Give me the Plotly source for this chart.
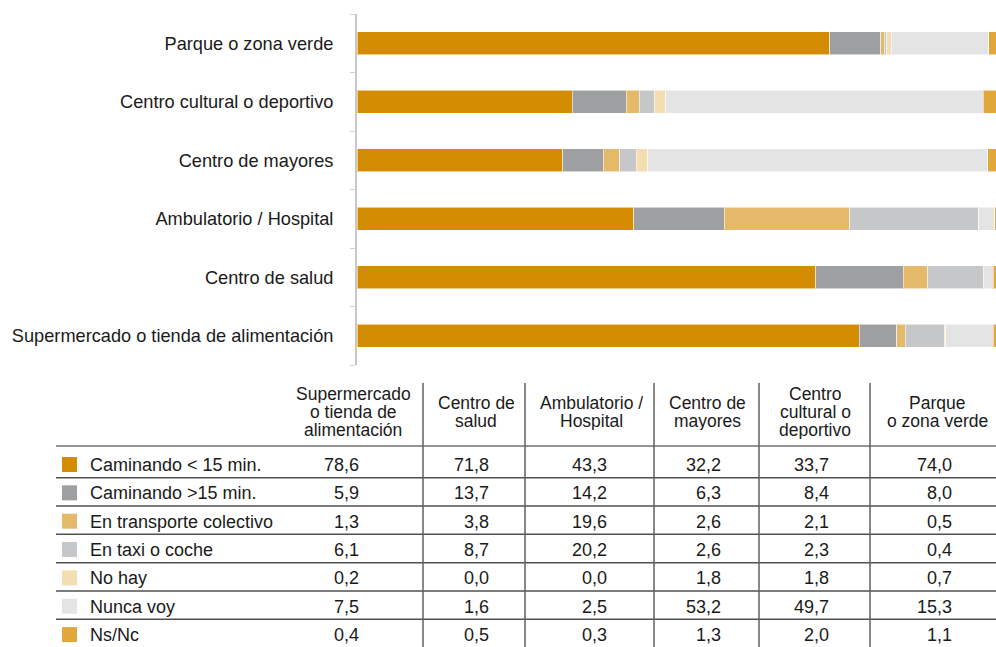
import html
import plotly.graph_objects as go

# ---------------- data ----------------
categories = [
    "Supermercado o tienda de alimentación",
    "Centro de salud",
    "Ambulatorio / Hospital",
    "Centro de mayores",
    "Centro cultural o deportivo",
    "Parque o zona verde",
]
header_labels = [
    ["Supermercado", "o tienda de", "alimentación"],
    ["Centro de", "salud"],
    ["Ambulatorio /", "Hospital"],
    ["Centro de", "mayores"],
    ["Centro", "cultural o", "deportivo"],
    ["Parque", "o zona verde"],
]
series_names = [
    "Caminando < 15 min.",
    "Caminando >15 min.",
    "En transporte colectivo",
    "En taxi o coche",
    "No hay",
    "Nunca voy",
    "Ns/Nc",
]
caminando_menos15 = [78.6, 71.8, 43.3, 32.2, 33.7, 74.0]
caminando_mas15 = [5.9, 13.7, 14.2, 6.3, 8.4, 8.0]
transporte_colectivo = [1.3, 3.8, 19.6, 2.6, 2.1, 0.5]
taxi_coche = [6.1, 8.7, 20.2, 2.6, 2.3, 0.4]
no_hay = [0.2, 0.0, 0.0, 1.8, 1.8, 0.7]
nunca_voy = [7.5, 1.6, 2.5, 53.2, 49.7, 15.3]
ns_nc = [0.4, 0.5, 0.3, 1.3, 2.0, 1.1]

series_values = [caminando_menos15, caminando_mas15, transporte_colectivo,
                 taxi_coche, no_hay, nunca_voy, ns_nc]
colors = ["#D48D02", "#9E9FA1", "#E5B96A", "#C6C7C8", "#F3DDB2", "#E3E4E3", "#E0A73A"]

# ---------------- layout helpers ----------------
W, H = 996, 647
FONT = "Liberation Sans, Arial, Helvetica, sans-serif"
TXT = "#1a1a1a"


def px(x):
    return x / W


def py(y):
    return 1 - y / H


fig = go.Figure()
for name, vals, col in zip(series_names, series_values, colors):
    fig.add_trace(go.Bar(
        y=categories, x=vals, orientation="h", name=name,
        marker=dict(color=col, line=dict(color="rgba(255,255,255,0.55)", width=1)),
        showlegend=False, hoverinfo="x+name",
    ))

fig.update_layout(
    width=W, height=H, barmode="stack", bargap=0.6,
    margin=dict(l=0, r=0, t=0, b=0),
    paper_bgcolor="white", plot_bgcolor="white",
    font=dict(family=FONT, size=18, color=TXT),
    xaxis=dict(domain=[px(357), 1], range=[0, 100], visible=False, fixedrange=True),
    yaxis=dict(domain=[py(365), py(14)], type="category", automargin=False,
               showline=True, linecolor="#C8C8C8", linewidth=2,
               ticks="outside", ticklen=5, tickcolor="#D0D0D0", tickwidth=1,
               tickson="boundaries", ticklabelstandoff=18,
               tickfont=dict(family=FONT, size=18.2, color=TXT),
               showgrid=False, zeroline=False, fixedrange=True),
)

shapes = []
annotations = []

# table geometry (pixels)
col_dividers = [423, 525, 654, 759, 870]
header_centers = [353, 476, 591, 707, 815, 937]
value_right = [361, 491, 609, 723, 831, 954]
row_text_y0, row_step = 465, 28.35
row_lines = [446, 477.7, 506, 534.3, 562.7, 591, 619.3]

for i, y in enumerate(row_lines):
    shapes.append(dict(type="line", xref="paper", yref="paper",
                       x0=px(56), x1=1, y0=py(y), y1=py(y),
                       line=dict(color="#707070" if i == 0 else "#505050", width=1.6)))
for x in col_dividers:
    shapes.append(dict(type="line", xref="paper", yref="paper",
                       x0=px(x), x1=px(x), y0=py(383), y1=0,
                       line=dict(color="#606060", width=1.5)))

# header
for lines, cx in zip(header_labels, header_centers):
    n = len(lines)
    y_start = 394 if n == 3 else 403
    for k, t in enumerate(lines):
        annotations.append(dict(xref="paper", yref="paper", x=px(cx), y=py(y_start + 18 * k),
                                text=html.escape(t), showarrow=False, xanchor="center",
                                yanchor="middle", height=18,
                                font=dict(family=FONT, size=17.5, color=TXT)))

# rows
for r, (name, vals, col) in enumerate(zip(series_names, series_values, colors)):
    yc = row_text_y0 + r * row_step
    shapes.append(dict(type="rect", xref="paper", yref="paper",
                       x0=px(62), x1=px(77), y0=py(yc - 8), y1=py(yc + 7),
                       fillcolor=col, line=dict(width=0)))
    annotations.append(dict(xref="paper", yref="paper", x=px(88), y=py(yc),
                            text=html.escape(name), showarrow=False, xanchor="left",
                            yanchor="middle", font=dict(family=FONT, size=18, color=TXT)))
    for v, xr in zip(vals, value_right):
        annotations.append(dict(xref="paper", yref="paper", x=px(xr), y=py(yc),
                                text=f"{v:.1f}".replace(".", ","), showarrow=False,
                                xanchor="right", yanchor="middle",
                                font=dict(family=FONT, size=18, color=TXT)))

fig.update_layout(shapes=shapes, annotations=annotations)
fig.write_html(
    "out.html",
    config={"displayModeBar": False},
    post_script="document.body.style.margin='0';document.body.style.overflow='hidden';",
)
